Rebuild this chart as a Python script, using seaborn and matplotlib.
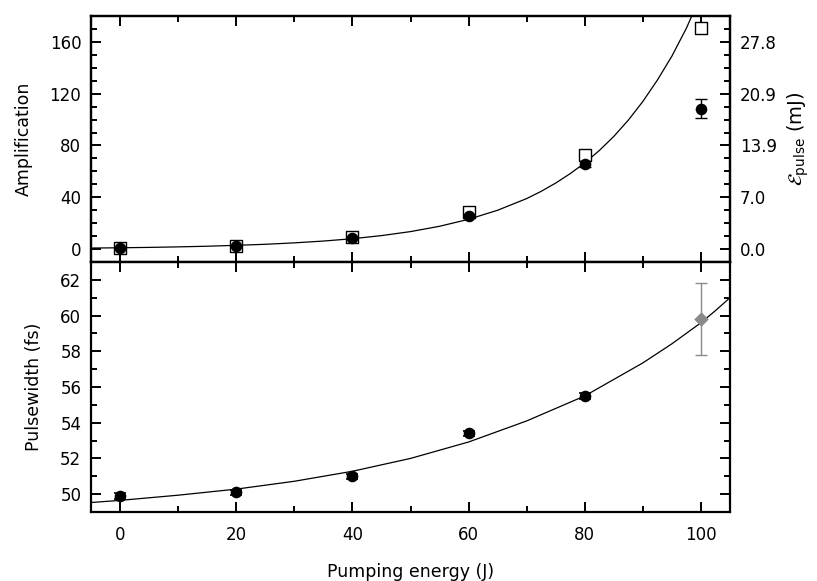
import matplotlib
matplotlib.use("Agg")
import matplotlib.pyplot as plt
from matplotlib.ticker import MultipleLocator
import seaborn as sns
import numpy as np
import pandas as pd

sns.set_theme(style="ticks")
plt.rcParams['font.family'] = ['DejaVu Sans']
plt.rcParams['mathtext.fontset'] = 'dejavusans'
for key in ("text.color", "axes.labelcolor", "xtick.color", "ytick.color",
            "axes.edgecolor"):
    plt.rcParams[key] = "black"

# pumping energies (J)
energy = [0, 20, 40, 60, 80, 100]

# top panel: amplification
amp_open = [1.0, 2.5, 9.5, 28.3, 72.4, 171.0]
amp_full = [0.8, 2.3, 8.5, 25.7, 65.5, 108.5]
amp_full_err = [1.0, 1.0, 1.0, 1.5, 2.5, 7.3]

# fitted curve
amp_fit_x = [-5, 0, 5, 10, 15, 20, 25, 30, 35, 40, 45, 50, 55, 60, 65, 70,
             72.5, 75, 77.5, 80, 82.5, 85, 87.5, 90, 92.5, 95, 97.5, 100]
amp_fit_y = [0.8, 1.0, 1.3, 1.7, 2.2, 2.9, 3.7, 4.8, 6.2, 8.0, 10.4, 13.5,
             17.6, 23.0, 30.0, 39.0, 44.6, 51.0, 58.3, 66.5, 76.1, 87.0, 99.6,
             114.0, 130.5, 149.0, 170.6, 196.0]

# right axis: pulse energy labels (mJ)
amp_ticks = [0, 40, 80, 120, 160]
epulse_labels = ["0.0", "7.0", "13.9", "20.9", "27.8"]

# bottom panel: pulsewidth (fs)
pw_energy = [0, 20, 40, 60, 80]
pw = [49.9, 50.1, 51.0, 53.4, 55.5]
pw_err = [0.15, 0.15, 0.15, 0.15, 0.15]
pw_last_energy = [100]
pw_last = [59.8]
pw_last_err = [2.0]

pw_fit_x = [-5, 0, 10, 20, 30, 40, 50, 60, 70, 80, 90, 95, 100, 102.5, 105]
pw_fit_y = [49.53, 49.65, 49.94, 50.28, 50.72, 51.28, 52.0, 52.92, 54.1, 55.5,
            57.35, 58.42, 59.6, 60.28, 61.0]

fig = plt.figure(figsize=(8.17, 5.81), dpi=100)
ax1 = fig.add_axes([0.1114, 0.549, 0.7821, 0.4235])
ax2 = fig.add_axes([0.1114, 0.1188, 0.7821, 0.4302])

# --- top panel
sns.lineplot(x=amp_fit_x, y=amp_fit_y, ax=ax1, color="black", lw=0.9, sort=False)
sns.scatterplot(x=energy, y=amp_open, ax=ax1, marker="s", s=70,
                facecolor="white", edgecolor="black", linewidth=1.0, zorder=3)
ax1.errorbar(energy, amp_full, yerr=amp_full_err, fmt="none", ecolor="black",
             elinewidth=1.0, capsize=4, capthick=1.0, zorder=4)
sns.scatterplot(x=energy, y=amp_full, ax=ax1, marker="o", s=70,
                color="black", edgecolor="black", linewidth=0, zorder=5)
ax1.set_xlim(-5, 105)
ax1.set_ylim(-10, 180)
ax1.set_yticks(amp_ticks)
ax1.yaxis.set_minor_locator(MultipleLocator(10))
ax1.set_ylabel("Amplification", fontsize=12.5, labelpad=12)

ax1r = ax1.twinx()
ax1r.set_ylim(ax1.get_ylim())
ax1r.set_yticks(amp_ticks)
ax1r.set_yticklabels(epulse_labels)
ax1r.yaxis.set_minor_locator(MultipleLocator(10))
ax1r.set_ylabel(r"$\mathcal{E}_{\mathrm{pulse}}$ (mJ)", fontsize=14, labelpad=6)

# --- bottom panel
sns.lineplot(x=pw_fit_x, y=pw_fit_y, ax=ax2, color="black", lw=0.9, sort=False)
ax2.errorbar(pw_energy, pw, yerr=pw_err, fmt="none", ecolor="black",
             elinewidth=1.2, capsize=4, capthick=1.2, zorder=4)
sns.scatterplot(x=pw_energy, y=pw, ax=ax2, marker="o", s=70, color="black",
                linewidth=0, zorder=5)
ax2.errorbar(pw_last_energy, pw_last, yerr=pw_last_err, fmt="none",
             ecolor="#8a8a8a", elinewidth=1.0, capsize=4, capthick=1.0, zorder=4)
sns.scatterplot(x=pw_last_energy, y=pw_last, ax=ax2, marker="D", s=55,
                color="#8a8a8a", linewidth=0, zorder=5)
ax2.set_xlim(-5, 105)
ax2.set_ylim(49, 63)
ax2.set_yticks([50, 52, 54, 56, 58, 60, 62])
ax2.yaxis.set_minor_locator(MultipleLocator(1))
ax2.set_ylabel("Pulsewidth (fs)", fontsize=12.5, labelpad=12)
ax2.set_xlabel("Pumping energy (J)", fontsize=12.5, labelpad=14)

for ax in (ax1, ax2):
    ax.set_xticks(energy)
    ax.xaxis.set_minor_locator(MultipleLocator(10))
    ax.tick_params(which="both", direction="in", top=True, bottom=True,
                   left=True, right=True, width=1.4, labelsize=12)
    ax.tick_params(which="major", length=7, pad=7)
    ax.tick_params(which="minor", length=4)
    for sp in ax.spines.values():
        sp.set_linewidth(1.6)
        sp.set_color("black")
    ax.set_facecolor("white")

ax1.tick_params(labelbottom=False, right=False, which="both")
ax1r.tick_params(which="both", direction="in", width=1.4, labelsize=12, pad=7)
ax1r.tick_params(which="major", length=7)
ax1r.tick_params(which="minor", length=4)
for sp in ax1r.spines.values():
    sp.set_linewidth(1.6)
    sp.set_color("black")
ax2.tick_params(axis="x", which="major", pad=10)
ax2.tick_params(axis="y", which="both", labelright=False)

fig.savefig("out.png", dpi=100, facecolor="white")
